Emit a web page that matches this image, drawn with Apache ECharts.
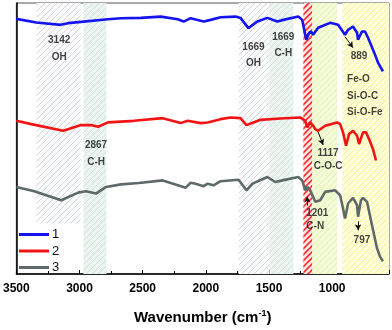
<!DOCTYPE html>
<html><head><meta charset="utf-8">
<script src="https://cdn.jsdelivr.net/npm/echarts@6/dist/echarts.min.js"></script>
<style>html,body{margin:0;padding:0;background:#fff}#c{width:392px;height:330px}</style>
</head><body><div id="c"></div>
<script>
// ---- data ----
const seriesNames = ['1', '2', '3'];
const wn1 = [3500,3342,3150,3090,2987,2775,2672,2514,2357,2222,2175,2120,2017,1962,1883,1765,1726,1663,1592,1513,1434,1387,1268,1237,1205,1182,1166,1151,1111,1016,953,898,874,835,803,795,764,740,716,661,637,598];
const val1 = [257,253.3,251,252.7,254,256.7,257.7,258,259.3,256.7,254.3,257.7,254.3,256,258.7,259.3,258,247.7,254.3,258,254.3,256,259.3,256,236,243,244,241,248,253,251,241,246,249.3,243,236,244.3,244.3,238,221,213,204];
const wn2 = [3500,3382,3129,2987,2909,2853,2774,2569,2341,2199,2144,2041,1986,1883,1805,1726,1678,1623,1568,1410,1253,1213,1197,1174,1150,1134,1111,1055,961,937,914,890,866,835,803,787,756,732,708,677,653];
const val2 = [154.3,151,144.3,150,150,148.3,152.7,154.3,157,152,154.3,152,152.7,156,157.7,157,150,152.7,155.3,156.7,157.7,154.3,147.7,152.7,149.3,146,144.3,149.3,152.7,151,142.7,129.3,141,144.3,139.3,131,142.7,142.7,136,126,114.3];
const wn3 = [3500,3358,3145,3011,2948,2869,2790,2672,2530,2341,2159,2120,2081,2017,1986,1939,1883,1741,1678,1631,1513,1450,1394,1268,1237,1213,1197,1174,1134,1095,1055,976,937,914,898,874,835,803,795,772,756,724,685,645,622,598];
const val3 = [87.7,83.3,74.3,82,83.3,81,87.7,90.3,91.7,94.3,87,92,91,88.5,91,89.3,93.5,95,84.3,91,97.7,92.7,94.3,97.7,94.3,84.3,87.7,84.3,72.7,74.3,82.7,84.3,79.3,66,56,71,76.7,69.3,57.7,74.3,76.7,72.7,49.3,26,17.7,12.7];
const xTickLabels = [3500, 3000, 2500, 2000, 1500, 1000];
// band ranges (wavenumber) and annotation texts
const bandRanges = [[3340, 2990], [2968, 2787], [1740, 1496], [1496, 1307], [1228, 1157], [1157, 961], [920, 550]];
const noteTexts = ['3142', 'OH', '2867', 'C-H', '1669', 'OH', '1669', 'C-H', '889', 'Fe-O', 'Si-O-C', 'Si-O-Fe', '1117', 'C-O-C', '1201', 'C-N', '797'];
const noteWn =    [3161, 3161, 2869, 2869, 1623, 1623, 1387, 1387, 787, 882, 882, 882, 1032, 1032, 1118, 1134, 764];
const noteVal =   [235, 218, 130, 113, 228, 212, 239, 222, 219, 196, 179, 163, 122, 109, 61, 48, 34];
const arrows = [[[898,239],[835,228]], [[1111,143],[1071,130]], [[1197,69],[1197,78]], [[795,53],[795,44]]];

// ---- styles ----
function hatch(bg, line, w) {
  const c = document.createElement('canvas');
  c.width = 6; c.height = 6;
  const g = c.getContext('2d');
  g.fillStyle = bg; g.fillRect(0, 0, 6, 6);
  g.strokeStyle = line; g.lineWidth = w || 1;
  g.beginPath();
  g.moveTo(-1, 7); g.lineTo(7, -1);
  g.moveTo(-1, 1); g.lineTo(1, -1);
  g.moveTo(5, 7); g.lineTo(7, 5);
  g.stroke();
  return { image: c, repeat: 'repeat' };
}
const bandStyles = [
  { fill: hatch('#fbfbfc', '#d3d7de'), partial: true },
  { fill: hatch('#ecf4f0', '#d0e2dc') },
  { fill: hatch('#fbfbfc', '#d3d7de') },
  { fill: hatch('#ecf4f0', '#d0e2dc') },
  { fill: hatch('#ffe4e4', '#ff3030', 1.6) },
  { fill: hatch('#f3fad6', '#e3f1b4') },
  { fill: hatch('#fefed6', '#f5f29c') }
];
const colors = ['#1414f0', '#f21414', '#5e6a6a'];
const font = 'Arial, "Liberation Sans", sans-serif';

const zip = (a, b) => a.map((v, i) => [v, b[i]]);
const lineData = [zip(wn1, val1), zip(wn2, val2), zip(wn3, val3)];

const areaData = bandRanges.map((r, i) => {
  const s = bandStyles[i];
  const a = { xAxis: r[0], itemStyle: { color: s.fill } };
  const b = { xAxis: r[1] };
  if (s.partial) { a.yAxis = 51; b.yAxis = 273; }
  return [a, b];
});

const notes = noteTexts.map((t, i) => ({
  value: [noteWn[i], noteVal[i]], name: t,
  label: (t.indexOf('Fe-O') === 0 || t.indexOf('Si-') === 0) ? { align: 'left' } : {}
}));

const chart = echarts.init(document.getElementById('c'), null, { renderer: 'canvas' });
chart.setOption({
  animation: false,
  backgroundColor: '#fff',
  grid: { left: 15, right: 3, top: 3, bottom: 54, show: true, borderColor: '#555', borderWidth: 1 },
  legend: {
    data: seriesNames, orient: 'vertical', left: 19, top: 228, padding: 0,
    icon: 'rect', itemWidth: 30, itemHeight: 3, itemGap: 3.5,
    textStyle: { fontFamily: font, fontSize: 13, color: '#111', lineHeight: 13, padding: [0, 0, 0, -2] }
  },
  xAxis: {
    type: 'value', inverse: true, min: 550, max: 3500, splitNumber: 6,
    axisLine: { lineStyle: { color: '#000', width: 1.5 } },
    axisTick: { inside: true, length: 4, lineStyle: { color: '#000' } },
    minorTick: { show: true, splitNumber: 2, length: 3, lineStyle: { color: '#000' } },
    splitLine: { show: false },
    axisLabel: {
      margin: 9, fontFamily: font, fontSize: 12, fontWeight: 'bold', color: '#000',
      formatter: v => (xTickLabels.indexOf(v) >= 0 ? String(v) : '')
    },
    name: '{a|Wavenumber (cm}{s|-1}{a|)}', nameLocation: 'middle', nameGap: 35,
    nameTextStyle: {
      rich: {
        a: { fontFamily: font, fontSize: 15, fontWeight: 'bold', color: '#000' },
        s: { fontFamily: font, fontSize: 9, fontWeight: 'bold', color: '#000', verticalAlign: 'top', padding: [0, 0, 8, 0] }
      }
    }
  },
  yAxis: {
    type: 'value', min: 0, max: 273,
    axisLine: { show: true, lineStyle: { color: '#000', width: 1.5 } },
    axisTick: { show: false }, axisLabel: { show: false }, splitLine: { show: false }
  },
  series: [
    {
      name: 'bands', type: 'line', data: [], silent: true, z: 1,
      markArea: { silent: true, data: areaData, label: { show: false } }
    },
    ...seriesNames.map((n, i) => ({
      name: n, type: 'line', data: lineData[i], symbol: 'none', z: 3,
      lineStyle: { color: colors[i], width: 2.6 }, itemStyle: { color: colors[i] }
    })),
    {
      name: 'notes', type: 'scatter', data: notes, symbolSize: 0, z: 5, silent: true,
      label: {
        show: true, position: 'inside', formatter: p => p.name,
        fontFamily: font, fontSize: 10, fontWeight: 'bold', color: '#111'
      },
      markLine: {
        silent: true, symbol: ['none', 'arrow'], symbolSize: [5, 6],
        label: { show: false },
        lineStyle: { color: '#111', width: 1, type: 'solid' },
        data: arrows.map(a => [{ coord: a[0] }, { coord: a[1] }])
      }
    }
  ]
});
</script></body></html>
